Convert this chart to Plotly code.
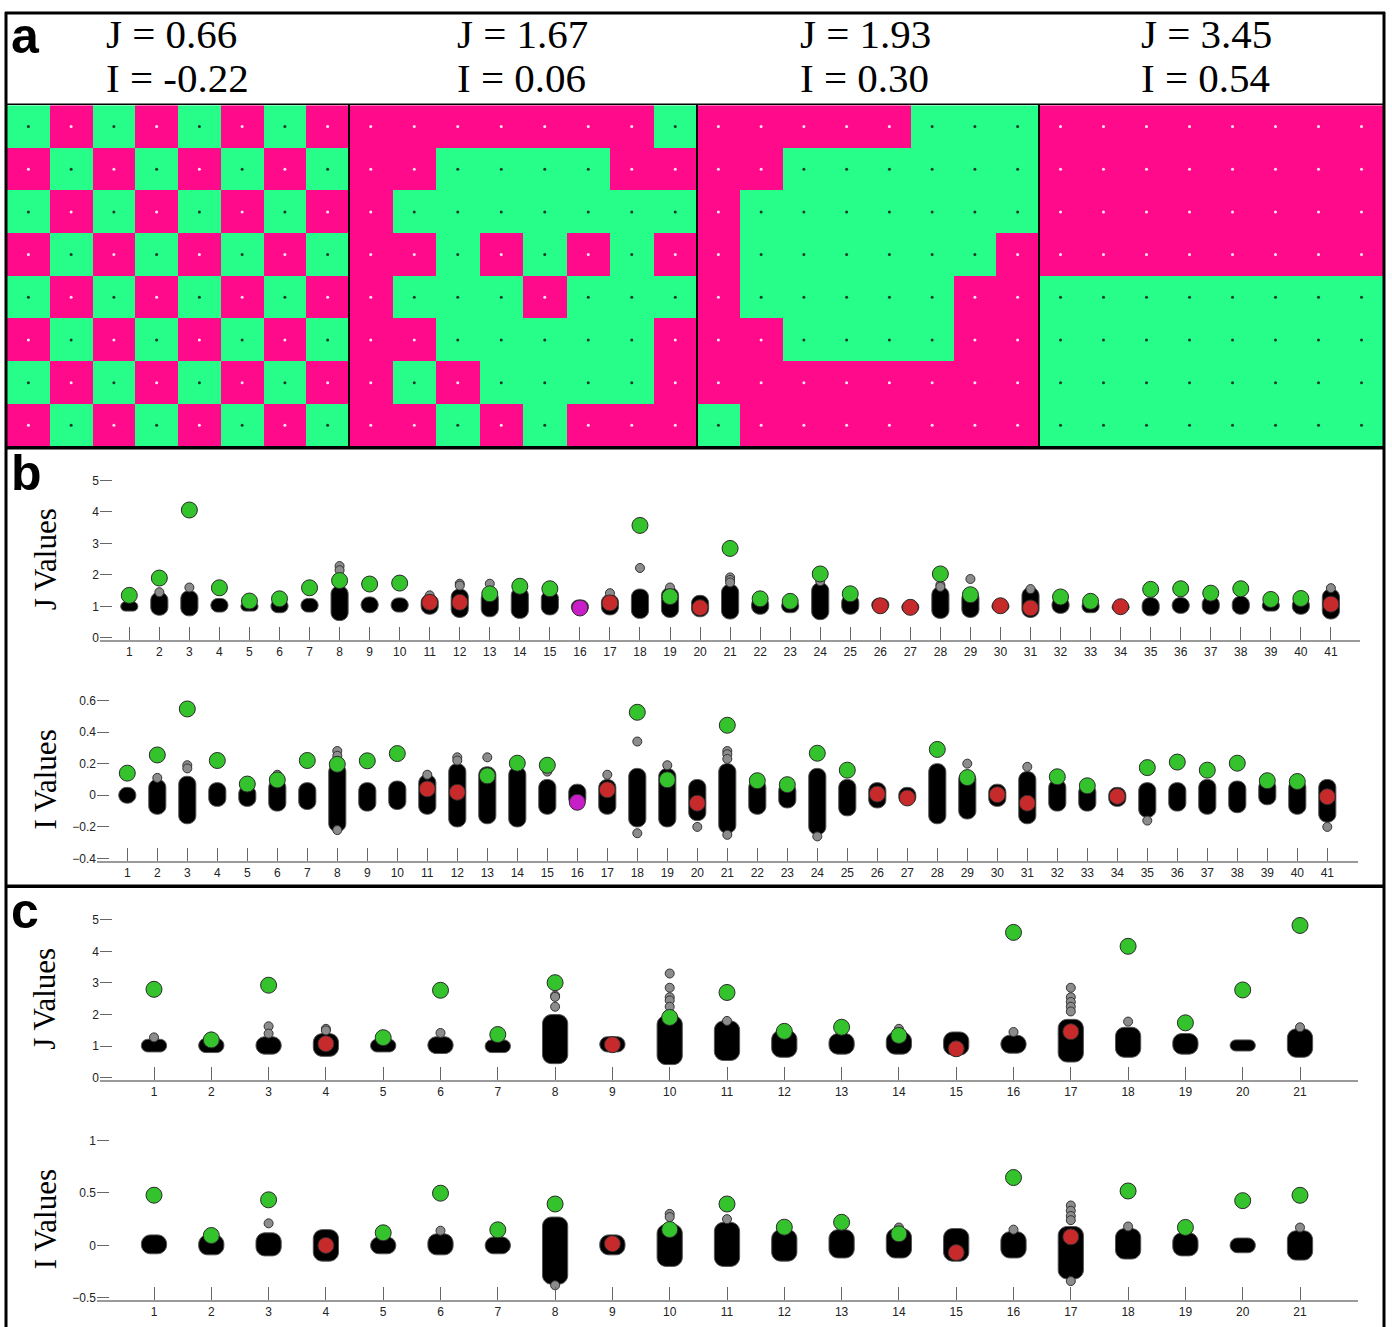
import plotly.graph_objects as go

# ---------------- panel a: 8x8 spin lattices (1 = green, 0 = magenta), row 0 = top row
lattice_a1 = [
    [1, 0, 1, 0, 1, 0, 1, 0],
    [0, 1, 0, 1, 0, 1, 0, 1],
    [1, 0, 1, 0, 1, 0, 1, 0],
    [0, 1, 0, 1, 0, 1, 0, 1],
    [1, 0, 1, 0, 1, 0, 1, 0],
    [0, 1, 0, 1, 0, 1, 0, 1],
    [1, 0, 1, 0, 1, 0, 1, 0],
    [0, 1, 0, 1, 0, 1, 0, 1],
]
lattice_a2 = [
    [0, 0, 0, 0, 0, 0, 0, 1],
    [0, 0, 1, 1, 1, 1, 0, 0],
    [0, 1, 1, 1, 1, 1, 1, 1],
    [0, 0, 1, 0, 1, 0, 1, 0],
    [0, 1, 1, 1, 0, 1, 1, 1],
    [0, 0, 1, 1, 1, 1, 1, 0],
    [0, 1, 0, 1, 1, 1, 1, 0],
    [0, 0, 1, 0, 1, 0, 0, 0],
]
lattice_a3 = [
    [0, 0, 0, 0, 0, 1, 1, 1],
    [0, 0, 1, 1, 1, 1, 1, 1],
    [0, 1, 1, 1, 1, 1, 1, 1],
    [0, 1, 1, 1, 1, 1, 1, 0],
    [0, 1, 1, 1, 1, 1, 0, 0],
    [0, 0, 1, 1, 1, 1, 0, 0],
    [0, 0, 0, 0, 0, 0, 0, 0],
    [1, 0, 0, 0, 0, 0, 0, 0],
]
lattice_a4 = [
    [0, 0, 0, 0, 0, 0, 0, 0],
    [0, 0, 0, 0, 0, 0, 0, 0],
    [0, 0, 0, 0, 0, 0, 0, 0],
    [0, 0, 0, 0, 0, 0, 0, 0],
    [1, 1, 1, 1, 1, 1, 1, 1],
    [1, 1, 1, 1, 1, 1, 1, 1],
    [1, 1, 1, 1, 1, 1, 1, 1],
    [1, 1, 1, 1, 1, 1, 1, 1],
]
lattice_j = [0.66, 1.67, 1.93, 3.45]
lattice_i = [-0.22, 0.06, 0.30, 0.54]

# ---------------- panel b: 41 groups
b_cats = list(range(1, 42))
b_status = (["green"] * 10 + ["red", "red"] + ["green"] * 3 + ["magenta", "red"]
            + ["green"] * 2 + ["red"] + ["green"] * 5 + ["red", "red"] + ["green"] * 2
            + ["red", "red"] + ["green"] * 2 + ["red"] + ["green"] * 6 + ["red"])

b_j_value = [1.35, 1.90, 4.06, 1.59, 1.17, 1.24, 1.59, 1.82, 1.71, 1.74,
             1.13, 1.13, 1.40, 1.64, 1.56, 0.95, 1.11, 3.57, 1.31, 0.96,
             2.84, 1.24, 1.16, 2.03, 1.40, 1.02, 0.97, 2.03, 1.37, 1.02,
             0.95, 1.30, 1.16, 0.99, 1.54, 1.56, 1.42, 1.56, 1.22, 1.25, 1.07]
b_j_low = [0.85, 0.72, 0.70, 0.82, 0.85, 0.80, 0.82, 0.55, 0.80, 0.82,
           0.75, 0.65, 0.67, 0.62, 0.73, 0.78, 0.73, 0.62, 0.65, 0.67,
           0.60, 0.75, 0.80, 0.58, 0.75, 0.85, 0.80, 0.62, 0.65, 0.85,
           0.65, 0.78, 0.80, 0.85, 0.70, 0.78, 0.75, 0.75, 0.85, 0.75, 0.60]
b_j_high = [1.15, 1.45, 1.50, 1.25, 1.15, 1.22, 1.25, 1.65, 1.30, 1.27,
            1.38, 1.55, 1.50, 1.60, 1.50, 1.20, 1.38, 1.55, 1.60, 1.35,
            1.70, 1.30, 1.22, 1.75, 1.38, 1.25, 1.15, 1.62, 1.50, 1.15,
            1.60, 1.30, 1.20, 1.10, 1.28, 1.28, 1.32, 1.32, 1.20, 1.28, 1.55]
b_j_out_cat = [2, 3, 8, 8, 11, 12, 12, 13, 17, 18, 19, 21, 21, 21, 24, 28, 28, 29, 31, 41]
b_j_out_val = [1.45, 1.60, 2.28, 2.15, 1.35, 1.72, 1.66, 1.72, 1.42, 2.22, 1.60,
               1.92, 1.84, 1.76, 1.80, 1.68, 1.62, 1.87, 1.55, 1.58]

b_i_value = [0.140, 0.255, 0.546, 0.220, 0.071, 0.097, 0.220, 0.196, 0.218, 0.264,
             0.040, 0.019, 0.123, 0.203, 0.190, -0.044, 0.035, 0.525, 0.098, -0.050,
             0.443, 0.092, 0.067, 0.266, 0.159, 0.008, -0.017, 0.290, 0.112, 0.004,
             -0.050, 0.117, 0.060, -0.007, 0.175, 0.210, 0.159, 0.203, 0.092, 0.087, -0.009]
b_i_low = [-0.05, -0.12, -0.18, -0.07, -0.07, -0.10, -0.09, -0.23, -0.10, -0.09,
           -0.12, -0.20, -0.18, -0.20, -0.12, -0.07, -0.12, -0.20, -0.20, -0.16,
           -0.24, -0.12, -0.08, -0.25, -0.13, -0.08, -0.06, -0.18, -0.15, -0.07,
           -0.18, -0.10, -0.10, -0.07, -0.14, -0.10, -0.12, -0.11, -0.06, -0.12, -0.17]
b_i_high = [0.05, 0.10, 0.12, 0.08, 0.06, 0.10, 0.08, 0.20, 0.08, 0.09,
            0.13, 0.20, 0.18, 0.18, 0.10, 0.07, 0.10, 0.17, 0.17, 0.10,
            0.20, 0.10, 0.08, 0.17, 0.10, 0.08, 0.05, 0.20, 0.15, 0.07,
            0.15, 0.10, 0.07, 0.05, 0.08, 0.08, 0.10, 0.09, 0.10, 0.10, 0.10]
b_i_out_cat = [2, 3, 3, 6, 8, 8, 8, 11, 12, 12, 13, 15, 17, 18, 18, 19, 20,
               21, 21, 21, 21, 24, 29, 31, 35, 41]
b_i_out_val = [0.11, 0.19, 0.17, 0.13, 0.28, 0.25, -0.22, 0.13, 0.24, 0.22, 0.24,
               0.15, 0.13, 0.34, -0.24, 0.19, -0.20, 0.28, 0.26, 0.23, -0.25,
               -0.26, 0.20, 0.18, -0.16, -0.20]

# ---------------- panel c: 21 groups
c_cats = list(range(1, 22))
c_status = (["green"] * 3 + ["red"] + ["green"] * 4 + ["red"] + ["green"] * 5
            + ["red", "green", "red"] + ["green"] * 4)

c_j_value = [2.80, 1.20, 2.93, 1.08, 1.27, 2.77, 1.37, 3.01, 1.05, 1.91, 2.70,
             1.47, 1.60, 1.34, 0.92, 4.60, 1.46, 4.16, 1.74, 2.78, 4.82]
c_j_low = [0.82, 0.80, 0.75, 0.68, 0.82, 0.77, 0.80, 0.45, 0.82, 0.42, 0.55,
           0.65, 0.75, 0.75, 0.72, 0.78, 0.50, 0.65, 0.75, 0.85, 0.65]
c_j_high = [1.22, 1.25, 1.30, 1.40, 1.22, 1.30, 1.20, 2.00, 1.30, 1.97, 1.80,
            1.50, 1.40, 1.45, 1.45, 1.35, 1.85, 1.60, 1.40, 1.20, 1.55]
c_j_out_cat = [1, 2, 3, 3, 4, 4, 6, 8, 8, 8, 10, 10, 10, 10, 10, 11, 14, 16,
               17, 17, 17, 17, 17, 18, 21]
c_j_out_val = [1.28, 1.30, 1.63, 1.40, 1.55, 1.50, 1.42, 2.60, 2.56, 2.25, 3.30,
               2.85, 2.55, 2.45, 2.25, 1.80, 1.55, 1.45, 2.85, 2.55, 2.40, 2.25,
               2.10, 1.78, 1.60]

c_i_value = [0.478, 0.094, 0.434, 0.000, 0.120, 0.497, 0.148, 0.394, 0.016, 0.151,
             0.394, 0.173, 0.220, 0.110, -0.068, 0.646, 0.081, 0.518, 0.171, 0.426, 0.477]
c_i_low = [-0.08, -0.09, -0.10, -0.15, -0.08, -0.09, -0.08, -0.37, -0.09, -0.20, -0.20,
           -0.15, -0.12, -0.12, -0.15, -0.12, -0.32, -0.13, -0.10, -0.07, -0.14]
c_i_high = [0.10, 0.10, 0.12, 0.15, 0.08, 0.11, 0.08, 0.27, 0.10, 0.20, 0.22,
            0.15, 0.15, 0.16, 0.16, 0.13, 0.18, 0.16, 0.12, 0.07, 0.14]
c_i_out_cat = [3, 6, 8, 10, 10, 11, 14, 16, 17, 17, 17, 17, 17, 18, 21]
c_i_out_val = [0.21, 0.14, -0.38, 0.30, 0.27, 0.25, 0.17, 0.15, 0.38, 0.33, 0.28,
               0.24, -0.34, 0.18, 0.17]

# ---------------- styling
W, H = 1392, 1327
PINK = "#fe0a8a"
MINT = "#27fe89"
DOT_ON_PINK = "#ffe4f1"
DOT_ON_MINT = "#1b3b2a"
STATUS_COLOR = {"green": "#34c22d", "red": "#c62a2b", "magenta": "#c81ec8"}
SANS = "Liberation Sans, Arial, sans-serif"
SERIF = "Liberation Serif, Times New Roman, serif"


def fx(p):
    return p / W


def fy(p):
    return 1 - p / H


fig = go.Figure()
layout = dict(
    width=W, height=H, margin=dict(l=0, r=0, t=0, b=0),
    paper_bgcolor="white", plot_bgcolor="white", showlegend=False,
    font=dict(family=SANS, color="#222222"),
    annotations=[], shapes=[],
)

# ---------------- panel a lattices
grid_edges = [7, 349, 697, 1039, 1383]
grid_top, grid_bottom = 101, 445
lattices = [lattice_a1, lattice_a2, lattice_a3, lattice_a4]
header_left = [104, 455, 798, 1139]

for k, lat in enumerate(lattices):
    n = k + 5
    fig.add_trace(go.Heatmap(
        z=lat, x=list(range(8)), y=list(range(8)),
        colorscale=[[0, PINK], [1, MINT]], zmin=0, zmax=1,
        showscale=False, hoverinfo="skip", xaxis=f"x{n}", yaxis=f"y{n}"))
    xs, ys, cs = [], [], []
    for r, row in enumerate(lat):
        for c, v in enumerate(row):
            xs.append(c)
            ys.append(r)
            cs.append(DOT_ON_MINT if v else DOT_ON_PINK)
    fig.add_trace(go.Scatter(
        x=xs, y=ys, mode="markers", hoverinfo="skip",
        marker=dict(size=3, color=cs, line=dict(width=0)),
        xaxis=f"x{n}", yaxis=f"y{n}"))
    layout[f"xaxis{n}"] = dict(domain=[fx(grid_edges[k]), fx(grid_edges[k + 1])],
                               range=[-0.5, 7.5], visible=False, anchor=f"y{n}")
    layout[f"yaxis{n}"] = dict(domain=[fy(grid_bottom), fy(grid_top)],
                               range=[7.5, -0.5], visible=False, anchor=f"x{n}")
    layout["annotations"].append(dict(
        text=f"J = {lattice_j[k]:.2f}", x=fx(header_left[k]), y=fy(29),
        xref="paper", yref="paper", xanchor="left", yanchor="middle",
        showarrow=False, font=dict(family=SERIF, size=41, color="black")))
    layout["annotations"].append(dict(
        text=f"I = {lattice_i[k]:.2f}", x=fx(header_left[k]), y=fy(74),
        xref="paper", yref="paper", xanchor="left", yanchor="middle",
        showarrow=False, font=dict(family=SERIF, size=41, color="black")))


# ---------------- strip panels
def fmt_tick(v):
    s = f"{v:g}"
    return s.replace("-", "\u2212")


def cloud_path(xc, lo, hi, half_w, rx, ry):
    """Rounded rectangle spanning lo..hi around category xc, in data units."""
    k = 0.4477
    x0, x1 = xc - half_w, xc + half_w
    return (f"M {x0 + rx},{hi} L {x1 - rx},{hi} "
            f"C {x1 - rx * k},{hi} {x1},{hi - ry * k} {x1},{hi - ry} "
            f"L {x1},{lo + ry} "
            f"C {x1},{lo + ry * k} {x1 - rx * k},{lo} {x1 - rx},{lo} "
            f"L {x0 + rx},{lo} "
            f"C {x0 + rx * k},{lo} {x0},{lo + ry * k} {x0},{lo + ry} "
            f"L {x0},{hi - ry} "
            f"C {x0},{hi - ry * k} {x0 + rx * k},{hi} {x0 + rx},{hi} Z")


def add_strip(n, cats, low, high, value, status, out_cat, out_val,
              box, cat0, step, yrange, yticks, cloud_w, radius, title):
    left, top, right, bottom = box
    xr = [1 - (cat0 - left) / step, 1 + (right - cat0) / step]
    # pad the value range by two pixels at each end so the end ticks stay visible
    unit_px = (bottom - top) / (yrange[1] - yrange[0])
    pad = 2.0 / unit_px
    yr = [yrange[0] - pad, yrange[1] + pad]
    top_px, bottom_px = top - 2.0, bottom + 2.0
    xa, ya = f"x{n}", f"y{n}"

    # point clouds: rounded black bodies spanning each group's low..high extent
    half_w = cloud_w / 2
    for c, lo, hi in zip(cats, low, high):
        h_px = (hi - lo) * unit_px
        r_px = min(radius, h_px / 2, cloud_w * step / 2)
        layout["shapes"].append(dict(
            type="path", xref=xa, yref=ya, layer="below",
            path=cloud_path(c, lo, hi, half_w, r_px / step, r_px / unit_px),
            fillcolor="black", line=dict(color="#555555", width=1)))

    fig.add_trace(go.Scatter(
        x=out_cat, y=out_val, mode="markers", hoverinfo="skip", cliponaxis=False,
        marker=dict(size=9, color="#8c8c8c", line=dict(color="#333333", width=1)),
        xaxis=xa, yaxis=ya))
    fig.add_trace(go.Scatter(
        x=cats, y=value, mode="markers", hoverinfo="skip", cliponaxis=False,
        marker=dict(size=16, color=[STATUS_COLOR[s] for s in status],
                    line=dict(color="#2a2a2a", width=1)),
        xaxis=xa, yaxis=ya))
    key = "" if n == 1 else str(n)
    layout[f"xaxis{key}"] = dict(
        domain=[fx(left), fx(right)], range=xr, anchor=ya,
        showline=True, linecolor="#9a9a9a", linewidth=2,
        ticks="inside", ticklen=13, tickwidth=1, tickcolor="#666666",
        tickvals=cats, ticktext=[str(c) for c in cats],
        tickfont=dict(size=12, color="#222222", family=SANS),
        showgrid=False, zeroline=False, fixedrange=True)
    layout[f"yaxis{key}"] = dict(
        domain=[fy(bottom_px), fy(top_px)], range=yr, anchor=xa,
        showline=False, ticks="inside", ticklen=12, tickwidth=1, tickcolor="#666666",
        tickvals=yticks, ticktext=[fmt_tick(v) for v in yticks],
        tickfont=dict(size=12, color="#222222", family=SANS),
        showgrid=False, zeroline=False, fixedrange=True)
    layout["annotations"].append(dict(
        text=title, x=fx(45), y=fy((top + bottom) / 2), xref="paper", yref="paper",
        xanchor="center", yanchor="middle", textangle=-90, showarrow=False,
        font=dict(family=SERIF, size=31, color="black")))


add_strip(1, b_cats, b_j_low, b_j_high, b_j_value, b_status, b_j_out_cat, b_j_out_val,
          (100, 479, 1360, 637.7), 129.3, 30.04, [0, 5], [0, 1, 2, 3, 4, 5],
          0.57, 8, "J Values")
add_strip(2, b_cats, b_i_low, b_i_high, b_i_value, b_status, b_i_out_cat, b_i_out_val,
          (97, 700.7, 1358, 860), 127.3, 30.0, [-0.4, 0.6],
          [-0.4, -0.2, 0, 0.2, 0.4, 0.6], 0.57, 8, "I Values")
add_strip(3, c_cats, c_j_low, c_j_high, c_j_value, c_status, c_j_out_cat, c_j_out_val,
          (100, 921.7, 1358, 1081), 154, 57.3, [0, 5], [0, 1, 2, 3, 4, 5],
          0.44, 9, "J Values")
add_strip(4, c_cats, c_i_low, c_i_high, c_i_value, c_status, c_i_out_cat, c_i_out_val,
          (97, 1144, 1358, 1302.7), 154, 57.3, [-0.5, 1], [-0.5, 0, 0.5, 1],
          0.44, 9, "I Values")

# ---------------- panel letters
for letter, ypx in (("a", 31), ("b", 472), ("c", 913)):
    layout["annotations"].append(dict(
        text=f"<b>{letter}</b>", x=fx(9), y=fy(ypx), xref="paper", yref="paper",
        xanchor="left", yanchor="middle", showarrow=False,
        font=dict(family=SANS, size=50, color="black")))


# ---------------- frame lines
def hline(ypx, x0, x1, w, color="black"):
    layout["shapes"].append(dict(type="line", xref="paper", yref="paper",
                                 x0=fx(x0), x1=fx(x1), y0=fy(ypx), y1=fy(ypx),
                                 line=dict(color=color, width=w)))


def vline(xpx, y0, y1, w, color="black"):
    layout["shapes"].append(dict(type="line", xref="paper", yref="paper",
                                 x0=fx(xpx), x1=fx(xpx), y0=fy(y0), y1=fy(y1),
                                 line=dict(color=color, width=w)))


hline(100, 6, 1384, 1.5)
for xe in grid_edges[1:-1]:
    vline(xe, 100, 446, 2)
hline(8, 5, 1385, 3)
hline(446, 5, 1385, 3.5)
hline(888, 5, 1385, 3.5)
vline(6, 7, 1340, 3)
vline(1384, 7, 1340, 3)

fig.update_layout(**layout)
fig.write_html("out.html")
